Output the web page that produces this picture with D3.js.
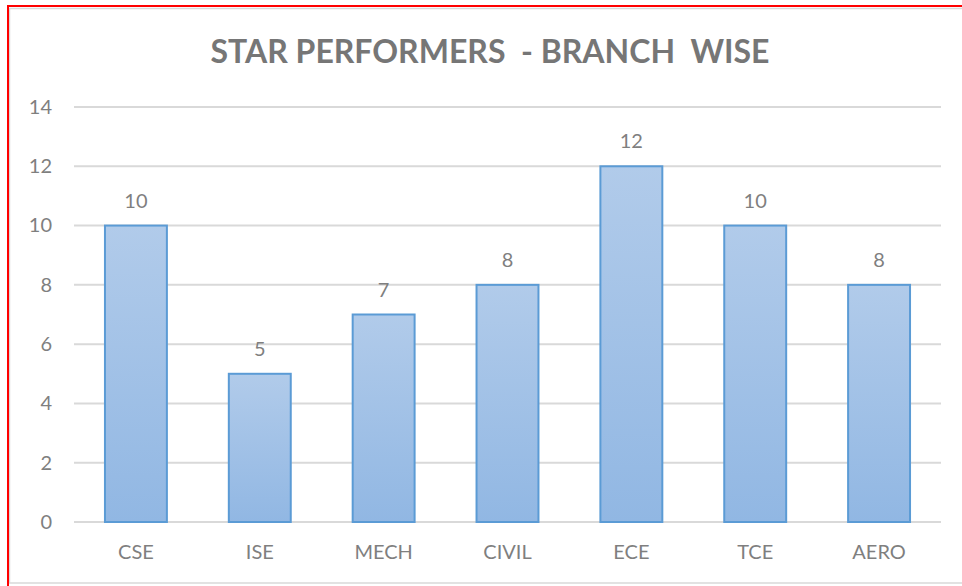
<!DOCTYPE html>
<html>
<head>
<meta charset="utf-8">
<script src="https://cdn.jsdelivr.net/npm/d3@7"></script>
<style>
  html, body { margin: 0; padding: 0; background: #fff; }
  svg { display: block; }
</style>
</head>
<body>
<div id="chart"></div>
<script>
const categories = ['CSE', 'ISE', 'MECH', 'CIVIL', 'ECE', 'TCE', 'AERO'];
const values = [10, 5, 7, 8, 12, 10, 8];
const yTicks = [0, 2, 4, 6, 8, 10, 12, 14];
const title = 'STAR PERFORMERS  - BRANCH  WISE';

const W = 962, H = 586;
const margin = { top: 107, right: 21, bottom: 64, left: 74 };
const width = W - margin.left - margin.right;
const height = H - margin.top - margin.bottom;
const font = 'Lato, "Open Sans", sans-serif';
const textColor = '#7f7f7f';

const svg = d3.select('#chart').append('svg')
  .attr('width', W)
  .attr('height', H);

// Gradient for bars
const grad = svg.append('defs').append('linearGradient')
  .attr('id', 'barGrad')
  .attr('x1', 0).attr('y1', 0).attr('x2', 0).attr('y2', 1);
grad.append('stop').attr('offset', '0%').attr('stop-color', '#b1cbea');
grad.append('stop').attr('offset', '100%').attr('stop-color', '#91b7e3');

// Frame: gray chart border, red selection outline
svg.append('rect')
  .attr('x', 9.5).attr('y', 8.5)
  .attr('width', W).attr('height', 574.5)
  .attr('fill', 'none')
  .attr('stroke', '#d9d9d9')
  .attr('stroke-width', 1.5);
svg.append('line')
  .attr('x1', 7).attr('x2', W).attr('y1', 6).attr('y2', 6)
  .attr('stroke', '#ff0000').attr('stroke-width', 2);
svg.append('line')
  .attr('x1', 8).attr('x2', 8).attr('y1', 5).attr('y2', H)
  .attr('stroke', '#ff0000').attr('stroke-width', 2);

// Title
svg.append('text')
  .attr('x', 490)
  .attr('y', 63)
  .attr('text-anchor', 'middle')
  .style('font-family', font)
  .style('font-size', '32px')
  .style('font-weight', 'bold')
  .style('fill', '#767676')
  .style('white-space', 'pre')
  .attr('xml:space', 'preserve')
  .text(title);

const g = svg.append('g')
  .attr('transform', `translate(${margin.left},${margin.top})`);

// Scales
const x = d3.scaleBand()
  .domain(categories)
  .range([0, width])
  .paddingInner(0.5)
  .paddingOuter(0.25);

const y = d3.scaleLinear()
  .domain([0, 14])
  .range([height, 0]);

// Gridlines
g.append('g')
  .selectAll('line')
  .data(yTicks)
  .enter()
  .append('line')
  .attr('x1', 0)
  .attr('x2', width)
  .attr('y1', d => y(d))
  .attr('y2', d => y(d))
  .attr('stroke', '#d9d9d9')
  .attr('stroke-width', 2);

// Y axis
const yAxis = g.append('g')
  .call(d3.axisLeft(y).tickValues(yTicks).tickSize(0).tickPadding(22));
yAxis.select('.domain').remove();
yAxis.selectAll('text')
  .style('font-family', font)
  .style('font-size', '20px')
  .style('fill', textColor);

// X axis
const xAxis = g.append('g')
  .attr('transform', `translate(0,${height})`)
  .call(d3.axisBottom(x).tickSize(0).tickPadding(23));
xAxis.select('.domain').remove();
xAxis.selectAll('text')
  .style('font-family', font)
  .style('font-size', '20px')
  .style('fill', textColor);

// Bars
g.selectAll('.bar')
  .data(values)
  .enter()
  .append('rect')
  .attr('class', 'bar')
  .attr('x', (d, i) => x(categories[i]))
  .attr('y', d => y(d))
  .attr('width', x.bandwidth())
  .attr('height', d => height - y(d))
  .attr('fill', 'url(#barGrad)')
  .attr('stroke', '#5b9bd5')
  .attr('stroke-width', 2);

// Data labels
g.selectAll('.label')
  .data(values)
  .enter()
  .append('text')
  .attr('class', 'label')
  .attr('x', (d, i) => x(categories[i]) + x.bandwidth() / 2)
  .attr('y', d => y(d) - 18)
  .attr('text-anchor', 'middle')
  .style('font-family', font)
  .style('font-size', '20px')
  .style('fill', textColor)
  .text(d => d);
</script>
</body>
</html>
